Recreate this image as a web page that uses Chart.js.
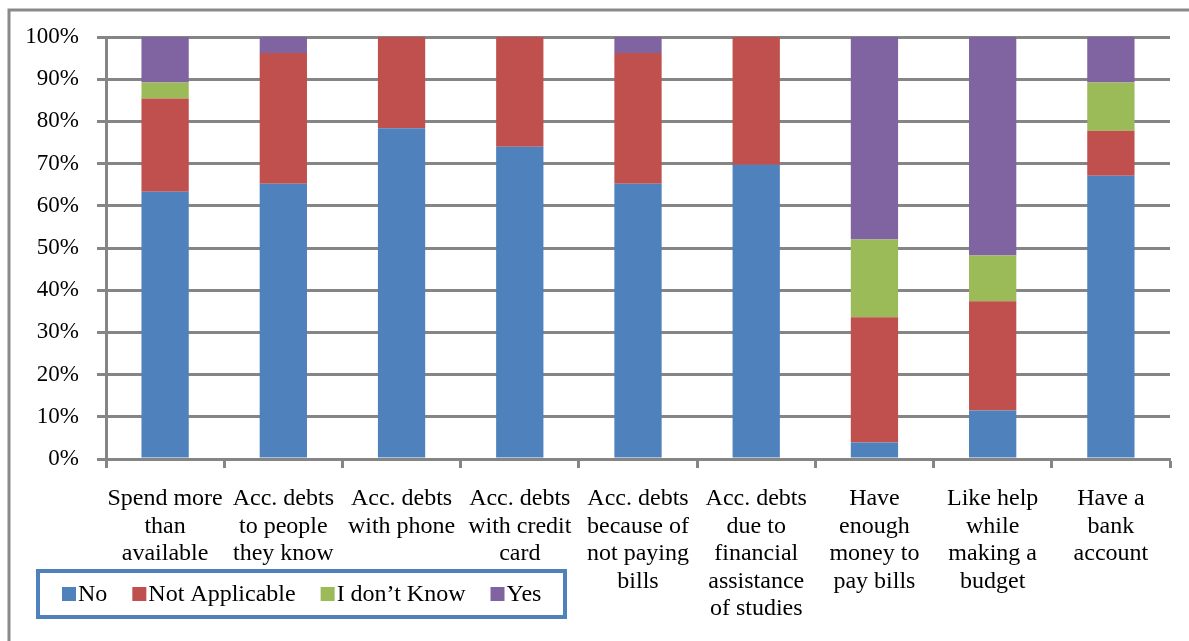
<!DOCTYPE html>
<html>
<head>
<meta charset="utf-8">
<script src="https://cdn.jsdelivr.net/npm/chart.js@4.4.0/dist/chart.umd.min.js"></script>
<style>
  body { margin: 0; background: #fff; }
  #wrap { width: 1189px; height: 641px; }
</style>
</head>
<body>
<div id="wrap"><canvas id="myChart" width="1189" height="641"></canvas></div>
<script>
// categories (multi line labels)
let categories = [
  ['Spend more', 'than', 'available'],
  ['Acc. debts', 'to people', 'they know'],
  ['Acc. debts', 'with phone'],
  ['Acc. debts', 'with credit', 'card'],
  ['Acc. debts', 'because of', 'not paying', 'bills'],
  ['Acc. debts', 'due to', 'financial', 'assistance', 'of studies'],
  ['Have', 'enough', 'money to', 'pay bills'],
  ['Like help', 'while', 'making a', 'budget'],
  ['Have a', 'bank', 'account']
]

// series values in %
let noValues = [63.3, 65.2, 78.4, 74.0, 65.2, 69.7, 3.9, 11.5, 67.1]
let notApplicable = [22.1, 31.0, 21.6, 26.0, 31.0, 30.3, 29.7, 25.9, 10.7]
let dontKnow = [3.8, 0, 0, 0, 0, 0, 18.4, 10.8, 11.4]
let yesValues = [10.8, 3.8, 0, 0, 3.8, 0, 48.0, 51.8, 10.8]

let seriesNames = ['No', 'Not Applicable', 'I don’t Know', 'Yes']
let yTicks = [0, 10, 20, 30, 40, 50, 60, 70, 80, 90, 100]

let colors = ['#4F81BD', '#C0504D', '#9BBB59', '#8064A2']
let gray = '#858585'
let font = 'Liberation Serif'

// outer frame lines
let framePlugin = {
  id: 'frame',
  beforeDraw(chart) {
    let ctx = chart.ctx
    ctx.save()
    ctx.strokeStyle = '#8a8a8a'
    ctx.lineWidth = 3
    ctx.beginPath()
    ctx.moveTo(9, 641)
    ctx.lineTo(9, 10)
    ctx.lineTo(1189, 10)
    ctx.stroke()
    ctx.restore()
  }
}

// legend box in the bottom left corner
let legendPlugin = {
  id: 'boxLegend',
  afterDraw(chart) {
    let ctx = chart.ctx
    ctx.save()
    ctx.strokeStyle = '#4F81BD'
    ctx.lineWidth = 4
    ctx.strokeRect(38, 571, 527, 46)
    ctx.font = '24px "' + font + '"'
    ctx.textBaseline = 'middle'
    ctx.fillStyle = '#000'
    let x = 62
    let y = 594
    chart.data.datasets.forEach((ds) => {
      ctx.fillStyle = ds.backgroundColor
      ctx.fillRect(x, y - 7, 14, 14)
      ctx.fillStyle = '#000'
      ctx.fillText(ds.label, x + 16, y + 1)
      x += 16 + ctx.measureText(ds.label).width + 25
    })
    ctx.restore()
  }
}

let series = [noValues, notApplicable, dontKnow, yesValues]
let datasets = series.map((data, i) => ({
  label: seriesNames[i],
  data: data,
  backgroundColor: colors[i],
  borderWidth: 0,
  barPercentage: 0.4,
  categoryPercentage: 1.0
}))

let ctx = document.getElementById('myChart').getContext('2d')
let myChart = new Chart(ctx, {
  type: 'bar',
  data: { labels: categories, datasets: datasets },
  plugins: [framePlugin, legendPlugin],
  options: {
    responsive: false,
    animation: false,
    layout: { padding: { left: 0, right: 19, top: 37, bottom: 0 } },
    plugins: {
      legend: { display: false },
      tooltip: { enabled: false }
    },
    scales: {
      x: {
        stacked: true,
        grid: {
          offset: true,
          drawOnChartArea: false,
          drawTicks: true,
          tickLength: 9,
          tickColor: gray,
          tickWidth: 3
        },
        border: { color: gray, width: 3 },
        ticks: {
          autoSkip: false,
          maxRotation: 0,
          padding: 17,
          color: '#000',
          font: { family: font, size: 24, lineHeight: 1.15 }
        },
        afterFit(scale) { scale.height = 182 }
      },
      y: {
        stacked: true,
        min: 0,
        max: 100,
        afterBuildTicks(scale) { scale.ticks = yTicks.map(v => ({ value: v })) },
        grid: {
          color: gray,
          lineWidth: 3,
          tickLength: 9,
          tickColor: gray
        },
        border: { color: gray, width: 3 },
        ticks: {
          padding: 18,
          color: '#000',
          font: { family: font, size: 23 },
          callback: (v) => v + '%'
        },
        afterFit(scale) { scale.width = 106 }
      }
    }
  }
})
</script>
</body>
</html>
